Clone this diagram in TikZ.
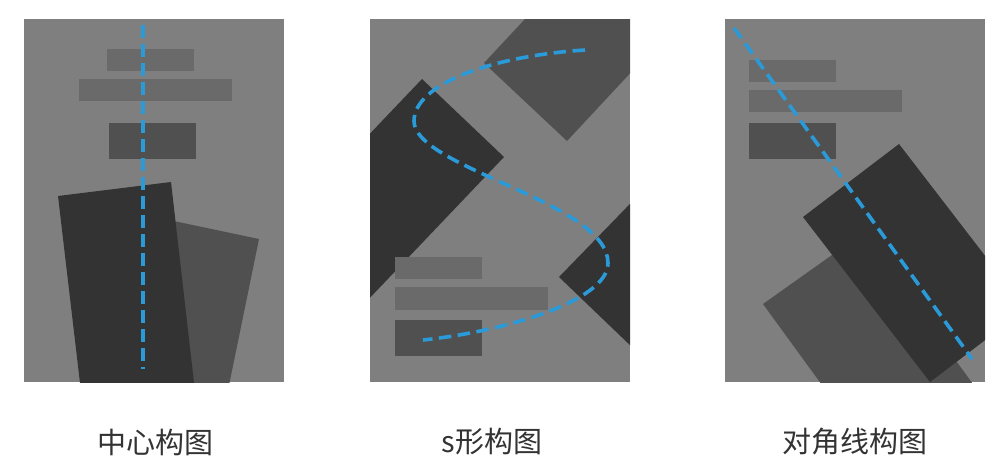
\documentclass[tikz,border=0pt]{standalone}
\usepackage{fontspec}
\newfontfamily\cjk{Noto Sans CJK SC}
\definecolor{bgpanel}{HTML}{7F7F7F}
\definecolor{lightbar}{HTML}{6A6A6A}
\definecolor{midgray}{HTML}{505050}
\definecolor{darkgray}{HTML}{333333}
\definecolor{guideblue}{HTML}{2A9AD8}
\definecolor{txt}{HTML}{333333}
\tikzset{
  panel/.style={fill=bgpanel},
  lightbox/.style={fill=lightbar},
  midbox/.style={fill=midgray},
  darkbox/.style={fill=darkgray},
  guide/.style={draw=guideblue, line width=3.6pt, dash pattern=on 12.5pt off 6.5pt},
  lbl/.style={font=\cjk\fontsize{29pt}{32pt}\selectfont, text=txt, inner sep=0pt}
}
\begin{document}
\begin{tikzpicture}[x=1pt,y=-1pt]
\useasboundingbox (0,0) rectangle (1000,469);
\fill[white] (0,0) rectangle (1000,469);

% ---------- Panel 1: centre ----------
\begin{scope}
  \clip (24,19) rectangle (284,382);
  \path[panel] (24,19) rectangle (284,382);
  \path[lightbox] (107,49) rectangle (194,71);
  \path[lightbox] (79,79) rectangle (232,101);
  \path[midbox] (109,123) rectangle (196,159);
  \path[midbox] (150,216) -- (259,239) -- (226,400) -- (120,400) -- cycle;
  \path[darkbox] (58,196) -- (171,182) -- (196,400) -- (82,400) -- cycle;
  \coordinate (c1a) at (143,25);
  \coordinate (c1b) at (143,369);
  \draw[guide] (c1a) -- (c1b);
\end{scope}

% ---------- Panel 2: S shape ----------
\begin{scope}
  \clip (370,19) rectangle (630,382);
  \path[panel] (370,19) rectangle (630,382);
  \path[midbox] (484,63) -- (567,141) -- (731,-35) -- (648,-113) -- cycle;
  \path[darkbox] (422,79) -- (504,157) -- (304,367) -- (222,289) -- cycle;
  \path[darkbox] (559,277) -- (659,174) -- (759,277) -- (659,373) -- cycle;
  \path[lightbox] (395,257) rectangle (482,279);
  \path[lightbox] (395,287) rectangle (548,310);
  \path[midbox] (395,320) rectangle (482,356);
  \coordinate (s0) at (585,50);
  \coordinate (s1) at (414,121);
  \coordinate (s2) at (608,263);
  \coordinate (s3) at (423,340);
  \draw[guide] (s0) .. controls (492,56) and (414,84) .. (s1)
                    .. controls (414,168) and (608,202) .. (s2)
                    .. controls (608,302) and (500,332) .. (s3);
\end{scope}

% ---------- Panel 3: diagonal ----------
\begin{scope}
  \clip (725,19) rectangle (985,382);
  \path[panel] (725,19) rectangle (985,382);
  \path[lightbox] (749,60) rectangle (836,82);
  \path[lightbox] (749,90) rectangle (902,112);
  \path[midbox] (749,123) rectangle (836,159);
  \path[midbox] (763,304) -- (863,233) -- (986,402) -- (886,473) -- cycle;
  \path[darkbox] (803,217) -- (899,144) -- (1026,309) -- (930,382) -- cycle;
  \coordinate (c3a) at (734,28);
  \coordinate (c3b) at (972,359);
  \draw[guide] (c3a) -- (c3b);
\end{scope}

% ---------- Labels ----------
\node[lbl] (lab1) at (155,442) {中心构图};
\node[lbl] (lab2) at (492,442) {s形构图};
\node[lbl] (lab3) at (855,442) {对角线构图};
\end{tikzpicture}
\end{document}
